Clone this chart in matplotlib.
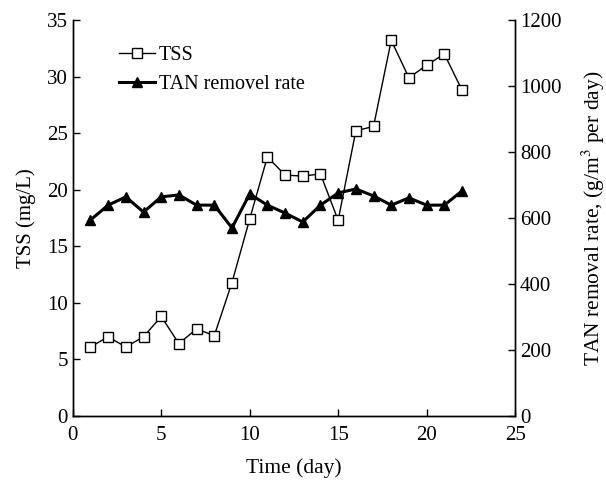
import matplotlib
matplotlib.use("Agg")
import matplotlib.pyplot as plt

plt.rcParams['font.family'] = ['Liberation Serif', 'DejaVu Serif']
plt.rcParams['mathtext.fontset'] = 'stix'

days = list(range(1, 23))
tss = [6.1, 7.0, 6.1, 7.0, 8.8, 6.4, 7.7, 7.1, 11.8, 17.4, 22.9, 21.3, 21.2, 21.4,
       17.3, 25.2, 25.6, 33.2, 29.9, 31.0, 32.0, 28.8]
tan = [594, 639, 664, 618, 664, 670, 639, 639, 570, 673, 639, 615, 588, 639,
       676, 688, 667, 639, 661, 639, 639, 682]

fig = plt.figure(figsize=(6.06, 4.88), dpi=100)
ax = fig.add_axes([0.12, 0.1475, 0.73, 0.8115])
ax2 = ax.twinx()

l1, = ax.plot(days, tss, color='black', lw=1.0, marker='s', markersize=6.5,
              markerfacecolor='white', markeredgecolor='black', markeredgewidth=1.0, label='TSS')
l2, = ax2.plot(days, tan, color='black', lw=2.2, marker='^', markersize=7,
               markerfacecolor='black', label='TAN removel rate')

ax.set_xlim(0, 25)
ax.set_ylim(0, 35)
ax2.set_ylim(0, 1200)
ax.set_xticks([0, 5, 10, 15, 20, 25])
ax.set_yticks(range(0, 36, 5))
ax2.set_yticks(range(0, 1201, 200))

for a in (ax, ax2):
    a.spines['top'].set_visible(False)
    a.tick_params(direction='in', labelsize=15, length=5, width=1)
    for s in a.spines.values():
        s.set_linewidth(1.0)
ax.tick_params(axis='x', pad=7)

ax.set_xlabel('Time (day)', fontsize=15.5, labelpad=10)
ax.set_ylabel('TSS (mg/L)', fontsize=15, labelpad=8)
ax2.set_ylabel('TAN removal rate, (g/m$^3$ per day)', fontsize=15.5, labelpad=13)

ax.legend([l1, l2], ['TSS', 'TAN removel rate'], loc='upper left', frameon=False,
          fontsize=14.5, handlelength=1.8, handletextpad=0.2, bbox_to_anchor=(0.104, 0.935),
          borderaxespad=0, borderpad=0, labelspacing=0.5)

fig.savefig('out.png', dpi=100)
